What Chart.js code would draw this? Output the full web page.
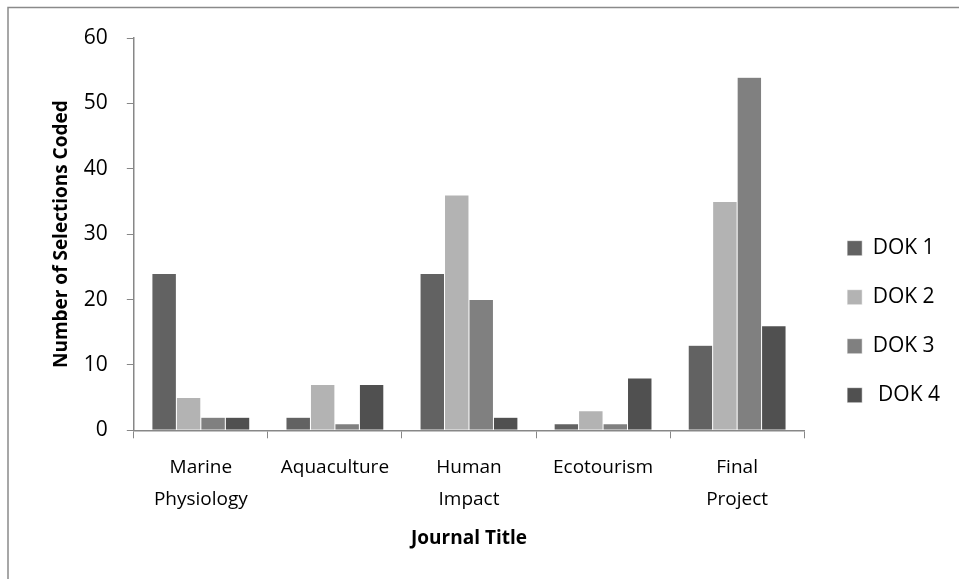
<!DOCTYPE html>
<html>
  <head>
    <title>Journal Selections by DOK</title>
    <script src="https://cdn.jsdelivr.net/npm/chart.js"></script>
    <style>
      body {
        margin: 0;
        background: #fff;
      }
      #chart {
        display: block;
      }
    </style>
  </head>
  <body>
    <canvas id="chart" width="959" height="579"></canvas>
    <script>
      const categories = [
        ["Marine", "Physiology"],
        "Aquaculture",
        ["Human", "Impact"],
        "Ecotourism",
        ["Final", "Project"],
      ];
      const seriesNames = ["DOK 1", "DOK 2", "DOK 3", " DOK 4"];
      const dok1 = [24, 2, 24, 1, 13];
      const dok2 = [5, 7, 36, 3, 35];
      const dok3 = [2, 1, 20, 1, 54];
      const dok4 = [2, 7, 2, 8, 16];
      const yTicks = [0, 10, 20, 30, 40, 50, 60];

      const colors = ["#626262", "#b3b3b3", "#808080", "#505050"];
      const axisColor = "#878787";
      const font = "'Open Sans', 'Noto Sans', sans-serif";

      // outer frame like the office chart area border
      const framePlugin = {
        id: "frame",
        beforeDraw(chart) {
          const ctx = chart.ctx;
          ctx.save();
          ctx.fillStyle = "#fff";
          ctx.fillRect(0, 0, chart.width, chart.height);
          ctx.strokeStyle = "#8a8a8a";
          ctx.lineWidth = 1.5;
          ctx.strokeRect(8, 7.5, chart.width + 20, chart.height + 20);
          ctx.restore();
        },
      };

      const datasets = [dok1, dok2, dok3, dok4].map(function (values, i) {
        return {
          label: seriesNames[i],
          data: values,
          backgroundColor: colors[i],
          borderColor: "#ffffff",
          borderWidth: 0.5,
          categoryPercentage: 0.73,
          barPercentage: 1.0,
        };
      });

      new Chart(document.getElementById("chart"), {
        type: "bar",
        data: { labels: categories, datasets: datasets },
        plugins: [framePlugin],
        options: {
          responsive: false,
          animation: false,
          layout: {
            padding: { left: 46, right: 9, top: 38, bottom: 27 },
          },
          plugins: {
            tooltip: { enabled: false },
            legend: {
              position: "right",
              title: {
                display: true,
                text: " ",
                padding: { top: 39, bottom: 0 },
              },
              labels: {
                color: "#000",
                font: { family: font, size: 21 },
                boxWidth: 15,
                boxHeight: 15,
                padding: 28,
              },
            },
          },
          scales: {
            x: {
              grid: {
                drawOnChartArea: false,
                color: axisColor,
                tickLength: 8,
                tickColor: axisColor,
              },
              border: { color: axisColor, width: 1.5 },
              ticks: {
                color: "#000",
                font: { family: font, size: 19, lineHeight: 1.65 },
                maxRotation: 0,
                autoSkip: false,
                padding: 14,
              },
              title: {
                display: true,
                text: "Journal Title",
                color: "#000",
                font: { family: font, size: 19, weight: "bold", lineHeight: 1 },
                padding: { top: 0 },
              },
            },
            y: {
              min: 0,
              max: 60,
              afterBuildTicks(axis) {
                axis.ticks = yTicks.map(function (v) {
                  return { value: v };
                });
              },
              grid: {
                drawOnChartArea: false,
                color: axisColor,
                tickLength: 7,
                tickColor: axisColor,
              },
              border: { color: axisColor, width: 1.5 },
              ticks: {
                color: "#000",
                font: { family: font, size: 21 },
                padding: 19,
              },
              title: {
                display: true,
                text: "Number of Selections Coded",
                color: "#000",
                font: { family: font, size: 19, weight: "bold" },
                padding: { top: 4, bottom: -8 },
              },
            },
            // empty spacer between plot and legend
            gap: {
              type: "linear",
              position: "right",
              display: true,
              grid: { display: false },
              border: { display: false },
              ticks: { display: false },
              afterFit(axis) {
                axis.width = 15;
              },
            },
          },
        },
      });
    </script>
  </body>
</html>
